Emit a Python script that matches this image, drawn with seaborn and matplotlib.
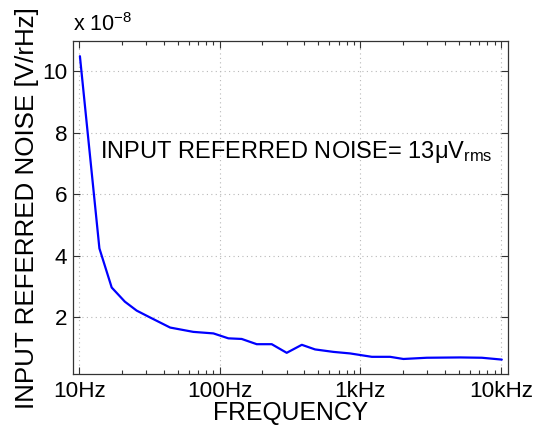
import matplotlib as mpl
import matplotlib.pyplot as plt
import numpy as np
import pandas as pd
import seaborn as sns

# frequency [Hz] and input referred noise [x 1e-8 V/rtHz]
freq_hz = [10.1, 13.9, 17.0, 21.1, 25.6, 31.8, 44.3, 64.7, 90, 115, 143, 183,
           234, 299, 383, 476, 643, 845, 1206, 1627, 2023, 2970, 5130, 7310, 10140]
noise_e8 = [10.48, 4.24, 2.97, 2.51, 2.22, 2.0, 1.67, 1.53, 1.48, 1.32, 1.30, 1.13,
            1.13, 0.85, 1.11, 0.96, 0.88, 0.83, 0.72, 0.72, 0.65, 0.69, 0.70, 0.69, 0.63]

x_ticks = [10, 100, 1000, 10000]
x_tick_labels = ['10Hz', '100Hz', '1kHz', '10kHz']
y_ticks = [2, 4, 6, 8, 10]

sns.set_style('white')
plt.rcParams['font.family'] = ['Liberation Sans', 'DejaVu Sans']
plt.rcParams['mathtext.fontset'] = 'custom'
plt.rcParams['mathtext.rm'] = 'Liberation Sans'
plt.rcParams['mathtext.it'] = 'Liberation Sans:italic'
plt.rcParams['text.color'] = 'black'
plt.rcParams['axes.labelcolor'] = 'black'
plt.rcParams['xtick.color'] = 'black'
plt.rcParams['ytick.color'] = 'black'

df = pd.DataFrame({'freq': freq_hz, 'noise': noise_e8})

fig = plt.figure(figsize=(5.42, 4.28), dpi=100)
ax = fig.add_axes([0.1347, 0.126, 0.8023, 0.778])
sns.lineplot(data=df, x='freq', y='noise', ax=ax, color='#0000ff', linewidth=1.6)

ax.set_xscale('log')
ax.set_xlim(9.02, 11200)
ax.set_ylim(0.16, 10.97)
ax.set_xticks(x_ticks)
ax.set_xticklabels(x_tick_labels)
ax.set_yticks(y_ticks)
ax.minorticks_on()
ax.yaxis.set_minor_locator(mpl.ticker.NullLocator())
ax.xaxis.set_minor_formatter(mpl.ticker.NullFormatter())

ax.tick_params(which='both', direction='in', bottom=True, left=True, top=True, right=True,
               labelsize=16.2, color='#333333', width=0.8)
ax.tick_params(which='major', length=5)
ax.tick_params(axis='x', which='major', pad=5)
ax.tick_params(axis='y', which='major', pad=4)
ax.tick_params(which='minor', length=3)
ax.grid(True, which='major', linestyle=(0, (1, 3)), color='#b8b8b8', linewidth=0.8)
for s in ax.spines.values():
    s.set_color('#333333')
    s.set_linewidth(0.9)

ax.set_xlabel('FREQUENCY', fontsize=17.8, labelpad=-0.5)
ax.set_ylabel('INPUT REFERRED NOISE [V/rHz]', fontsize=18.7, labelpad=2)

ax.text(0.062, 0.667, 'INPUT REFERRED NOISE= 13\u03bcV$_{\\mathrm{rms}}$',
        transform=ax.transAxes, fontsize=17, va='center', ha='left')
ax.text(0.0, 1.015, 'x 10$^{-8}$', transform=ax.transAxes, fontsize=15.5,
        va='bottom', ha='left')

fig.savefig('out.png', dpi=100)
